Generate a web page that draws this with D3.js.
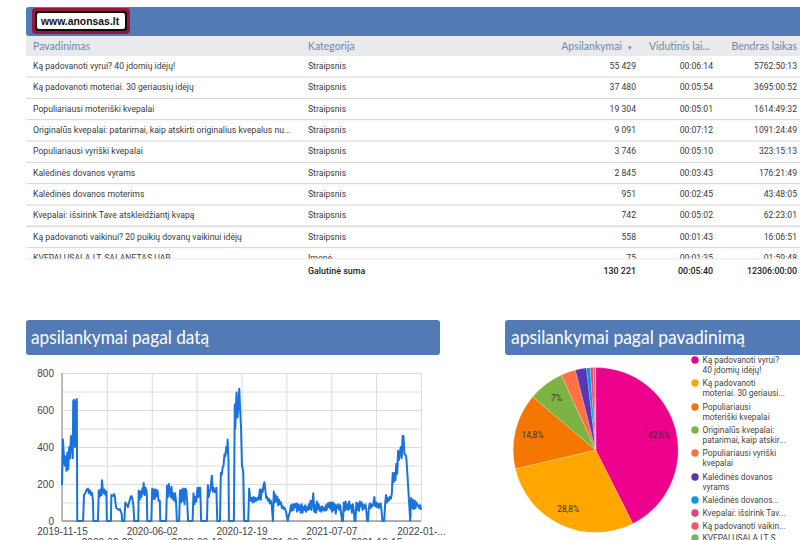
<!DOCTYPE html>
<html>
<head>
<meta charset="utf-8">
<script src="https://cdn.jsdelivr.net/npm/d3@7/dist/d3.min.js"></script>
<style>
    html, body { margin: 0; padding: 0; background: #fff; overflow: hidden; }
    svg { display: block; }
    .cell { font: 8.65px Roboto, sans-serif; fill: #3a3a3a; }
    .head { font: 10.5px Lato, sans-serif; fill: #7486a6; }
    .total { font: 500 8.9px Roboto, sans-serif; fill: #222; }
    .title { font: 19px Lato, sans-serif; fill: #fff; }
    .chart text { font: 10px "Liberation Sans", sans-serif; fill: #444; }
    .legend text { font: 8.35px Roboto, sans-serif; fill: #444; }
</style>
</head>
<body>
<div id="page"></div>
<script>
    "use strict";

    var names = [
        "Ką padovanoti vyrui? 40 įdomių idėjų!",
        "Ką padovanoti moteriai. 30 geriausių idėjų",
        "Populiariausi moteriški kvepalai",
        "Originalūs kvepalai: patarimai, kaip atskirti originalius kvepalus nu...",
        "Populiariausi vyriški kvepalai",
        "Kalėdinės dovanos vyrams",
        "Kalėdinės dovanos moterims",
        "Kvepalai: išsirink Tave atskleidžiantį kvapą",
        "Ką padovanoti vaikinui? 20 puikių dovanų vaikinui idėjų",
        "KVEPALUSALA.LT, SALANETAS UAB"
    ];
    var categories = ["Straipsnis", "Straipsnis", "Straipsnis", "Straipsnis", "Straipsnis",
        "Straipsnis", "Straipsnis", "Straipsnis", "Straipsnis", "Įmonė"];
    var visits = [55429, 37480, 19304, 9091, 3746, 2845, 951, 742, 558, 75];
    var avgTimes = ["00:06:14", "00:05:54", "00:05:01", "00:07:12", "00:05:10",
        "00:03:43", "00:02:45", "00:05:02", "00:01:43", "00:01:35"];
    var totalTimes = ["5762:50:13", "3695:00:52", "1614:49:32", "1091:24:49", "323:15:13",
        "176:21:49", "43:48:05", "62:23:01", "16:06:51", "01:59:48"];
    var totals = ["Galutinė suma", "130 221", "00:05:40", "12306:00:00"];

    var legendLabels = [
        ["Ką padovanoti vyrui?", "40 įdomių idėjų!"],
        ["Ką padovanoti", "moteriai. 30 geriausi..."],
        ["Populiariausi", "moteriški kvepalai"],
        ["Originalūs kvepalai:", "patarimai, kaip atskir..."],
        ["Populiariausi vyriški", "kvepalai"],
        ["Kalėdinės dovanos", "vyrams"],
        ["Kalėdinės dovanos..."],
        ["Kvepalai: išsirink Tav..."],
        ["Ką padovanoti vaikin..."],
        ["KVEPALUSALA.LT S..."]
    ];
    var sliceColors = ["#ec008c", "#ffa600", "#f57600", "#7cb342", "#ff7043",
        "#5e35b1", "#039be5", "#e0457b", "#ef5a6f", "#66bb6a"];

    var startDate = new Date(2019, 10, 15);
    var xTickLabels = ["2019-11-15", "2020-02-23", "2020-06-02", "2020-09-10", "2020-12-19",
        "2021-03-29", "2021-07-07", "2021-10-15", "2022-01-..."];
    var xTickDays = [0, 100, 200, 300, 400, 500, 600, 700, 800];
    var yTicks = [0, 100, 200, 300, 400, 500, 600, 700, 800];

    // [days since start, visits]
    var dailyVisits = [
        [0,195],[2,440],[4,360],[6,300],[8,350],[10,270],[12,370],[14,280],[16,400],[18,340],[20,460],[22,430],[24,340],[25,650],[27,655],[29,400],[31,640],[33,660],[34,0],
        [47,0],[49,140],[52,150],[55,170],[58,175],[60,150],[63,165],[65,140],[67,150],[69,110],[70,0],
        [80,0],[82,165],[84,130],[86,170],[88,140],[89,220],[91,170],[93,150],[95,170],[97,140],[99,160],[100,0],
        [109,0],[110,140],[113,135],[116,145],[118,130],[119,100],[121,70],[124,65],[127,60],[129,65],[131,50],[133,40],[134,0],
        [139,0],[141,100],[144,90],[147,75],[150,105],[153,130],[155,135],[157,115],[159,85],[161,0],
        [170,0],[171,165],[173,115],[175,160],[177,130],[179,175],[181,150],[182,205],[184,140],[186,180],[187,145],[188,170],[189,145],[190,0],
        [199,0],[201,175],[203,120],[205,170],[207,120],[209,170],[211,135],[213,165],[215,110],[218,110],[219,0],
        [232,0],[234,190],[236,130],[238,200],[240,160],[242,130],[244,185],[246,120],[248,150],[250,110],[252,150],[254,110],[256,0],
        [261,0],[263,165],[265,100],[267,170],[269,110],[271,175],[273,90],[275,175],[277,165],[279,100],[281,0],
        [291,0],[293,150],[295,90],[297,130],[299,105],[302,180],[304,130],[306,180],[308,180],[309,100],[310,0],
        [323,0],[325,195],[327,130],[329,155],[331,175],[334,245],[336,160],[338,180],[340,155],[342,155],[344,180],[346,0],
        [352,0],[354,260],[356,250],[358,290],[360,300],[362,360],[364,350],[366,400],[368,370],[369,440],[371,330],[372,0],
        [383,0],[385,630],[386,500],[387,560],[389,695],[391,560],[393,620],[395,715],[397,600],[399,500],[401,300],[403,280],[404,260],[406,0],
        [415,0],[417,175],[419,130],[421,110],[423,125],[425,100],[427,130],[429,105],[431,125],[433,110],[436,125],[438,115],[441,170],[443,115],[445,170],[447,155],[449,190],[451,210],[453,170],[455,125],[457,130],[459,110],[461,120],[463,95],[465,110],[467,95],[470,0],
        [472,160],[474,100],[476,140],[478,105],[480,130],[482,85],[484,115],[486,90],[488,100],[490,70],[492,80],[494,65],[496,70],[498,60],[500,40],[503,0],[505,25],[508,50],[510,85],[512,55],[514,90],[516,60],[518,90],[520,75],[522,95],[524,50],[526,90],[528,60],[530,85],[532,45],
        [534,90],[536,45],[538,75],[540,60],[542,85],[544,50],[546,75],[548,60],[550,90],[552,65],[554,110],[556,60],[558,100],[560,150],[562,50],[564,85],[566,45],[568,105],[570,65],[572,90],[574,55],[576,75],[578,50],[580,80],[582,60],[584,70],[586,55],[588,85],[590,60],[592,95],[594,75],[596,100],[598,65],[600,100],[602,50],[604,100],[606,60],[608,90],[610,40],[612,85],[614,70],[616,90],[618,60],[620,85],[622,40],[624,0],[626,0],
        [628,100],[630,55],[632,105],[634,65],[636,90],[638,60],[640,105],[642,70],[644,85],[646,45],[648,90],[650,60],[652,0],[654,0],[656,100],[658,60],[660,95],[662,55],[664,105],[666,80],[668,100],[670,60],[672,85],[674,70],[676,90],[678,60],[680,0],[682,0],
        [684,75],[686,95],[688,70],[690,90],[692,80],[694,95],[696,130],[698,80],[700,100],[702,75],[704,95],[706,70],[708,90],[710,95],[712,60],[714,0],[716,0],[718,0],
        [720,90],[722,140],[724,100],[726,125],[728,110],[730,130],[733,120],[735,150],[737,260],[739,210],[741,260],[743,220],[745,310],[747,255],[749,380],[751,330],[753,370],[755,400],[757,340],[759,460],[761,460],[763,360],[765,360],[767,350],[769,280],[771,200],[773,120],[775,40],[776,0],
        [778,125],[780,70],[782,115],[784,65],[786,110],[788,70],[790,100],[792,85],[794,85],[796,70],[798,85],[800,60]
    ];

    var panelColor = "#527ab5";
    var thousands = d3.formatLocale({ decimal: ",", thousands: " ", grouping: [3], currency: ["", ""] }).format(",d");

    var svg = d3.select("#page").append("svg").attr("width", 800).attr("height", 540);

    var drawPanel = function (x, width, y, height) {
        svg.append("rect")
            .attr("x", x).attr("y", y).attr("width", width).attr("height", height)
            .attr("rx", 3).attr("fill", panelColor);
    };

    // the title face runs narrower than Lato, so squeeze it to the measured width
    var drawTitle = function (x, width, label) {
        svg.append("text").attr("class", "title")
            .attr("x", x).attr("y", 344)
            .attr("textLength", width)
            .attr("lengthAdjust", "spacingAndGlyphs")
            .text(label);
    };

    var drawTable = function () {
        drawPanel(26, 790, 7, 29);

        // logo
        svg.append("rect").attr("x", 32).attr("y", 8).attr("width", 98).attr("height", 26).attr("rx", 4).attr("fill", "#96173b");
        svg.append("rect").attr("x", 35).attr("y", 11).attr("width", 92).attr("height", 20).attr("rx", 3).attr("fill", "#120808");
        svg.append("rect").attr("x", 37).attr("y", 13).attr("width", 88).attr("height", 16).attr("rx", 2).attr("fill", "#fff");
        svg.append("text").attr("x", 41).attr("y", 24.5)
            .style("font", "bold 10.4px 'Liberation Sans', sans-serif").style("fill", "#111")
            .text("www.anonsas.lt");

        svg.append("rect").attr("x", 26).attr("y", 36).attr("width", 774).attr("height", 20).attr("fill", "#e8eaed");
        var headers = [
            { t: "Pavadinimas", x: 33, a: "start" },
            { t: "Kategorija", x: 308, a: "start" },
            { t: "Apsilankymai", x: 622, a: "end" },
            { t: "▾", x: 632, a: "end" },
            { t: "Vidutinis lai...", x: 710, a: "end" },
            { t: "Bendras laikas", x: 797, a: "end" }
        ];
        svg.selectAll(".head").data(headers).enter().append("text")
            .attr("class", "head")
            .attr("x", function (d) { return d.x; })
            .attr("y", 50)
            .attr("text-anchor", function (d) { return d.a; })
            .style("font-size", function (d) { return d.t === "▾" ? "7px" : null; })
            .text(function (d) { return d.t; });

        svg.append("clipPath").attr("id", "rows-clip").append("rect")
            .attr("x", 26).attr("y", 56).attr("width", 774).attr("height", 203);

        var rowY = d3.scaleLinear().domain([0, 9]).range([66, 258]);
        var $rows = svg.append("g").attr("clip-path", "url(#rows-clip)")
            .selectAll("g").data(names).enter().append("g")
            .attr("transform", function (d, i) { return "translate(0," + rowY(i) + ")"; });

        $rows.append("line")
            .attr("x1", 26).attr("x2", 800).attr("y1", 11).attr("y2", 11)
            .attr("stroke", function (d, i) { return i === 7 ? "#e0e0e0" : "#d4d4d4"; })
            .attr("stroke-width", function (d, i) { return i === 7 ? 2 : 1; });
        $rows.append("text").attr("class", "cell").attr("x", 33).attr("y", 3)
            .text(function (d) { return d; });
        $rows.append("text").attr("class", "cell").attr("x", 308).attr("y", 3)
            .text(function (d, i) { return categories[i]; });
        $rows.append("text").attr("class", "cell").attr("x", 636).attr("y", 3).attr("text-anchor", "end")
            .text(function (d, i) { return thousands(visits[i]); });
        $rows.append("text").attr("class", "cell").attr("x", 713).attr("y", 3).attr("text-anchor", "end")
            .text(function (d, i) { return avgTimes[i]; });
        $rows.append("text").attr("class", "cell").attr("x", 797).attr("y", 3).attr("text-anchor", "end")
            .text(function (d, i) { return totalTimes[i]; });

        svg.append("line").attr("x1", 26).attr("x2", 800).attr("y1", 259).attr("y2", 259).attr("stroke", "#e6e6e6");

        var totalX = [308, 636, 713, 797];
        svg.selectAll(".total").data(totals).enter().append("text")
            .attr("class", "total")
            .attr("x", function (d, i) { return totalX[i]; })
            .attr("y", 274)
            .attr("text-anchor", function (d, i) { return i === 0 ? "start" : "end"; })
            .text(function (d) { return d; });
    };

    var drawLineChart = function () {
        drawPanel(26, 414, 320, 35);
        drawTitle(31, 178, "apsilankymai pagal datą");

        var x = d3.scaleTime()
            .domain([startDate, d3.timeDay.offset(startDate, 800)])
            .range([62, 421]);
        var y = d3.scaleLinear().domain([0, 800]).range([521, 373]);

        var $chart = svg.append("g").attr("class", "chart");

        var $yAxis = $chart.append("g")
            .attr("transform", "translate(62,0)")
            .call(d3.axisLeft(y)
                .tickValues(yTicks)
                .tickSize(-359)
                .tickPadding(8)
                .tickFormat(function (d) { return d % 200 === 0 ? d : ""; }));
        $yAxis.select(".domain").remove();
        $yAxis.selectAll("line").attr("stroke", "#dcdcdc");

        var tickDates = xTickDays.map(function (d) { return d3.timeDay.offset(startDate, d); });
        var $xAxis = $chart.append("g")
            .attr("transform", "translate(0,521)")
            .call(d3.axisBottom(x)
                .tickValues(tickDates)
                .tickSize(-148)
                .tickPadding(5)
                .tickFormat(function (d, i) { return xTickLabels[i]; }));
        $xAxis.select(".domain").remove();
        $xAxis.selectAll("line").attr("stroke", "#dcdcdc");
        $xAxis.selectAll("text").attr("y", function (d, i) { return i % 2 === 0 ? 6.5 : 18; });

        var line = d3.line()
            .x(function (d) { return x(d3.timeDay.offset(startDate, d[0])); })
            .y(function (d) { return y(d[1]); });

        $chart.append("line").attr("x1", 62).attr("x2", 421).attr("y1", 521).attr("y2", 521)
            .attr("stroke", "#999").attr("stroke-width", 1.5);
        $chart.append("line").attr("x1", 62).attr("x2", 62).attr("y1", 373).attr("y2", 521)
            .attr("stroke", "#aaa").attr("stroke-width", 1.5);

        $chart.append("path")
            .datum(dailyVisits)
            .attr("fill", "none")
            .attr("stroke", "#1a73dc")
            .attr("stroke-width", 2)
            .attr("stroke-linejoin", "round")
            .attr("d", line);
    };

    var drawPie = function () {
        drawPanel(505, 310, 320, 35);
        drawTitle(511, 234, "apsilankymai pagal pavadinimą");

        var total = d3.sum(visits);
        var pie = d3.pie().sort(null)(visits);
        var arc = d3.arc().innerRadius(0).outerRadius(82.5);
        var labelArc = d3.arc().innerRadius(65).outerRadius(65);

        var $pie = svg.append("g").attr("transform", "translate(595.7,450)");
        $pie.selectAll("path").data(pie).enter().append("path")
            .attr("d", arc)
            .attr("fill", function (d, i) { return sliceColors[i]; })
            .attr("stroke", "#fff")
            .attr("stroke-opacity", 0.4)
            .attr("stroke-width", 0.5);

        $pie.selectAll("text").data(pie.filter(function (d) { return d.value / total > 0.05; })).enter().append("text")
            .attr("transform", function (d) { return "translate(" + labelArc.centroid(d) + ")"; })
            .attr("text-anchor", "middle")
            .attr("dy", "0.35em")
            .style("font", "8.4px Roboto, sans-serif")
            .style("fill", "#333")
            .text(function (d) {
                return String(+(d.value / total * 100).toFixed(1)).replace(".", ",") + "%";
            });

        var legendY = d3.scaleOrdinal()
            .domain(d3.range(10))
            .range([360, 383, 407, 430, 453, 477, 500, 513, 526, 538]);
        var $items = svg.append("g").attr("class", "legend")
            .selectAll("g").data(legendLabels).enter().append("g")
            .attr("transform", function (d, i) { return "translate(695," + legendY(i) + ")"; });
        $items.append("circle")
            .attr("r", 3.7)
            .attr("fill", function (d, i) { return sliceColors[i]; });
        $items.selectAll("text").data(function (d) { return d; }).enter().append("text")
            .attr("x", 7.5)
            .attr("y", function (d, i) { return 3 + i * 10; })
            .text(function (d) { return d; });
    };

    drawTable();
    drawLineChart();
    drawPie();
</script>
</body>
</html>
